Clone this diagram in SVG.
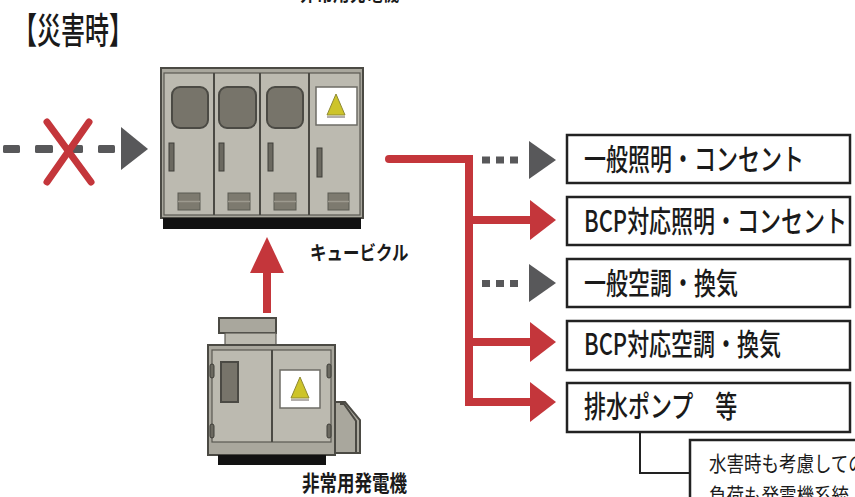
<svg xmlns="http://www.w3.org/2000/svg" width="855" height="497" viewBox="0 0 855 497">
  <defs>
    <style>
      .jp { font-family: "Noto Sans CJK JP", "Noto Sans", sans-serif; fill: #1a1a1a; }
      .box { fill: #ffffff; stroke: #222222; stroke-width: 2.5; }
      .frame { fill: #a9a79d; stroke: #4b4a44; stroke-width: 2; }
      .panel { fill: #bcbab0; stroke: #5a5952; stroke-width: 1.2; }
      .edge { stroke: #4b4a44; stroke-width: 2; fill: none; }
      .win { fill: #77746a; stroke: #4b4a44; stroke-width: 2; }
      .handle { fill: #6b6960; stroke: #3f3e39; stroke-width: 1; }
      .vent { fill: #7d7a6f; stroke: #5b5a52; stroke-width: 1; }
      .sign { fill: #ffffff; stroke: #6d6c66; stroke-width: 1.5; }
      .warn { fill: #cdc42a; stroke: #8e8933; stroke-width: 1; }
      .base { fill: #121212; }
      .red { stroke: #c4363b; fill: none; }
      .redfill { fill: #c4363b; }
      .grayfill { fill: #58585a; }
      .thin { fill: none; stroke: #222222; stroke-width: 2; }
      .load { font-size: 22px; font-weight: 500; }
    </style>
  </defs>

  <!-- partially visible caption at the top edge -->
  <text class="jp" transform="translate(300,1) scale(1,1.25)" font-size="16.5" font-weight="bold">非常用発電機</text>

  <!-- heading -->
  <g id="title">
    <text class="jp" transform="translate(13,44) scale(1,1.5)" font-size="24" font-weight="500">【災害時】</text>
  </g>

  <!-- cubicle (receiving switchgear) -->
  <g id="cubicle">
    <rect class="frame" x="161" y="68" width="202" height="150"/>
    <rect class="panel" x="164" y="73" width="196" height="142"/>
    <line class="edge" x1="214" y1="73" x2="214" y2="215"/>
    <line class="edge" x1="260" y1="73" x2="260" y2="215"/>
    <line class="edge" x1="309" y1="73" x2="309" y2="215"/>
    <rect class="win" x="172" y="87" width="36" height="41" rx="8"/>
    <rect class="win" x="219" y="87" width="37" height="41" rx="8"/>
    <rect class="win" x="267" y="87" width="36" height="41" rx="8"/>
    <rect class="sign" x="316" y="87" width="41" height="38"/>
    <polygon class="warn" points="336,94 345,115 327,115"/>
    <line x1="327" y1="117" x2="345" y2="117" stroke="#9a9590" stroke-width="1.5"/>
    <rect class="handle" x="169" y="143" width="5" height="28"/>
    <rect class="handle" x="219" y="143" width="5" height="28"/>
    <rect class="handle" x="268" y="143" width="5" height="28"/>
    <rect class="handle" x="317" y="148" width="5" height="29"/>
    <rect class="vent" x="178" y="193" width="22" height="17"/>
    <rect class="vent" x="228" y="193" width="22" height="17"/>
    <rect class="vent" x="274" y="193" width="22" height="17"/>
    <rect class="vent" x="328" y="193" width="21" height="17"/>
    <g stroke="#9d9a8f" stroke-width="1.5">
      <line x1="178" y1="201.5" x2="200" y2="201.5"/>
      <line x1="228" y1="201.5" x2="250" y2="201.5"/>
      <line x1="274" y1="201.5" x2="296" y2="201.5"/>
      <line x1="328" y1="201.5" x2="349" y2="201.5"/>
    </g>
    <rect class="base" x="163" y="218" width="198" height="11"/>
    <text class="jp" transform="translate(310,260) scale(1,1.2)" font-size="16.5" font-weight="bold">キュービクル</text>
  </g>

  <!-- emergency generator -->
  <g id="generator">
    <rect class="frame" x="219" y="318" width="57" height="15"/>
    <rect class="panel" x="225" y="333" width="51" height="12" stroke="#4b4a44"/>
    <polygon class="frame" points="335,402 345,402 360,420 360,453 335,453"/>
    <polyline class="edge" points="340,404 344,404 356,421 356,453" stroke-width="1"/>
    <rect class="frame" x="208" y="345" width="127" height="110"/>
    <rect class="panel" x="212" y="350" width="119" height="92"/>
    <line class="edge" x1="272" y1="350" x2="272" y2="442"/>
    <rect class="handle" x="210" y="364" width="4" height="14" rx="2"/>
    <rect class="handle" x="210" y="424" width="4" height="14" rx="2"/>
    <rect class="handle" x="327" y="364" width="4" height="14" rx="2"/>
    <rect class="handle" x="327" y="424" width="4" height="14" rx="2"/>
    <rect class="win" x="221" y="362" width="17" height="40" fill="#6e6c65" stroke-width="1.5"/>
    <rect class="sign" x="280" y="370" width="40" height="38"/>
    <polygon class="warn" points="300,377 309,398 291,398"/>
    <line x1="291" y1="400" x2="309" y2="400" stroke="#9a9590" stroke-width="1.5"/>
    <rect class="base" x="218" y="455" width="108" height="10"/>
    <text class="jp" transform="translate(302,491) scale(1,1.25)" font-size="17.5" font-weight="bold">非常用発電機</text>
  </g>

  <!-- load boxes -->
  <g id="load-general-lighting">
    <rect class="box" x="567" y="135" width="283" height="48"/>
    <text class="jp load" transform="translate(584,170) scale(1,1.35)">一般照明・コンセント</text>
  </g>
  <g id="load-bcp-lighting">
    <rect class="box" x="567" y="197" width="283" height="48"/>
    <text class="jp load" transform="translate(584,232) scale(1,1.35)">BCP対応照明・コンセント</text>
  </g>
  <g id="load-general-hvac">
    <rect class="box" x="567" y="259" width="283" height="48"/>
    <text class="jp load" transform="translate(584,294) scale(1,1.35)">一般空調・換気</text>
  </g>
  <g id="load-bcp-hvac">
    <rect class="box" x="567" y="321" width="283" height="49"/>
    <text class="jp load" transform="translate(584,355) scale(1,1.35)">BCP対応空調・換気</text>
  </g>
  <g id="load-pump">
    <rect class="box" x="567" y="383" width="283" height="49"/>
    <text class="jp load" transform="translate(584,417) scale(1,1.35)">排水ポンプ　等</text>
  </g>

  <!-- annotation -->
  <g id="note">
    <rect class="box" x="690" y="440" width="200" height="80" stroke-width="2"/>
    <text class="jp" transform="translate(709,471) scale(1,1.2)" font-size="17.5">水害時も考慮しての</text>
    <text class="jp" transform="translate(709,503) scale(1,1.2)" font-size="17.5">負荷も発電機系統</text>
  </g>

  <!-- connectors -->
  <g id="connectors">
    <!-- utility supply (cut off) -->
    <g class="grayfill">
      <rect x="3" y="145" width="17" height="8" rx="1.5"/>
      <rect x="35" y="145" width="18" height="8" rx="1.5"/>
      <rect x="68" y="145" width="15" height="8" rx="1.5"/>
      <rect x="98" y="145" width="17" height="8" rx="1.5"/>
      <polygon points="121,127 148,149 121,170"/>
    </g>
    <g class="red" stroke-width="7" stroke-linecap="round">
      <line x1="47" y1="122" x2="91" y2="182"/>
      <line x1="89" y1="122" x2="47" y2="182"/>
    </g>

    <!-- generator to cubicle -->
    <rect class="redfill" x="263" y="271" width="8" height="42"/>
    <polygon class="redfill" points="250,273 267,237 284,273"/>

    <!-- cubicle to loads -->
    <path class="red" d="M389 159 H469 V402 H533" stroke-width="8" stroke-linecap="butt" stroke-linejoin="miter"/>
    <circle class="redfill" cx="389" cy="159" r="4"/>
    <line class="red" x1="469" y1="220" x2="533" y2="220" stroke-width="8"/>
    <line class="red" x1="469" y1="342" x2="533" y2="342" stroke-width="8"/>
    <polygon class="redfill" points="530,200 556,220 530,240"/>
    <polygon class="redfill" points="530,322 556,342 530,362"/>
    <polygon class="redfill" points="530,382 556,402 530,422"/>

    <!-- disconnected loads -->
    <g class="grayfill">
      <rect x="482" y="156.5" width="8" height="7"/>
      <rect x="496" y="156.5" width="8" height="7"/>
      <rect x="510" y="156.5" width="8" height="7"/>
      <polygon points="529,141 556,160 529,179"/>
      <rect x="482" y="280" width="8" height="7"/>
      <rect x="496" y="280" width="8" height="7"/>
      <rect x="510" y="280" width="8" height="7"/>
      <polygon points="529,264 556,283 529,302"/>
    </g>

    <!-- pump to annotation -->
    <path class="thin" d="M640 433 V473 H690"/>
  </g>
</svg>
